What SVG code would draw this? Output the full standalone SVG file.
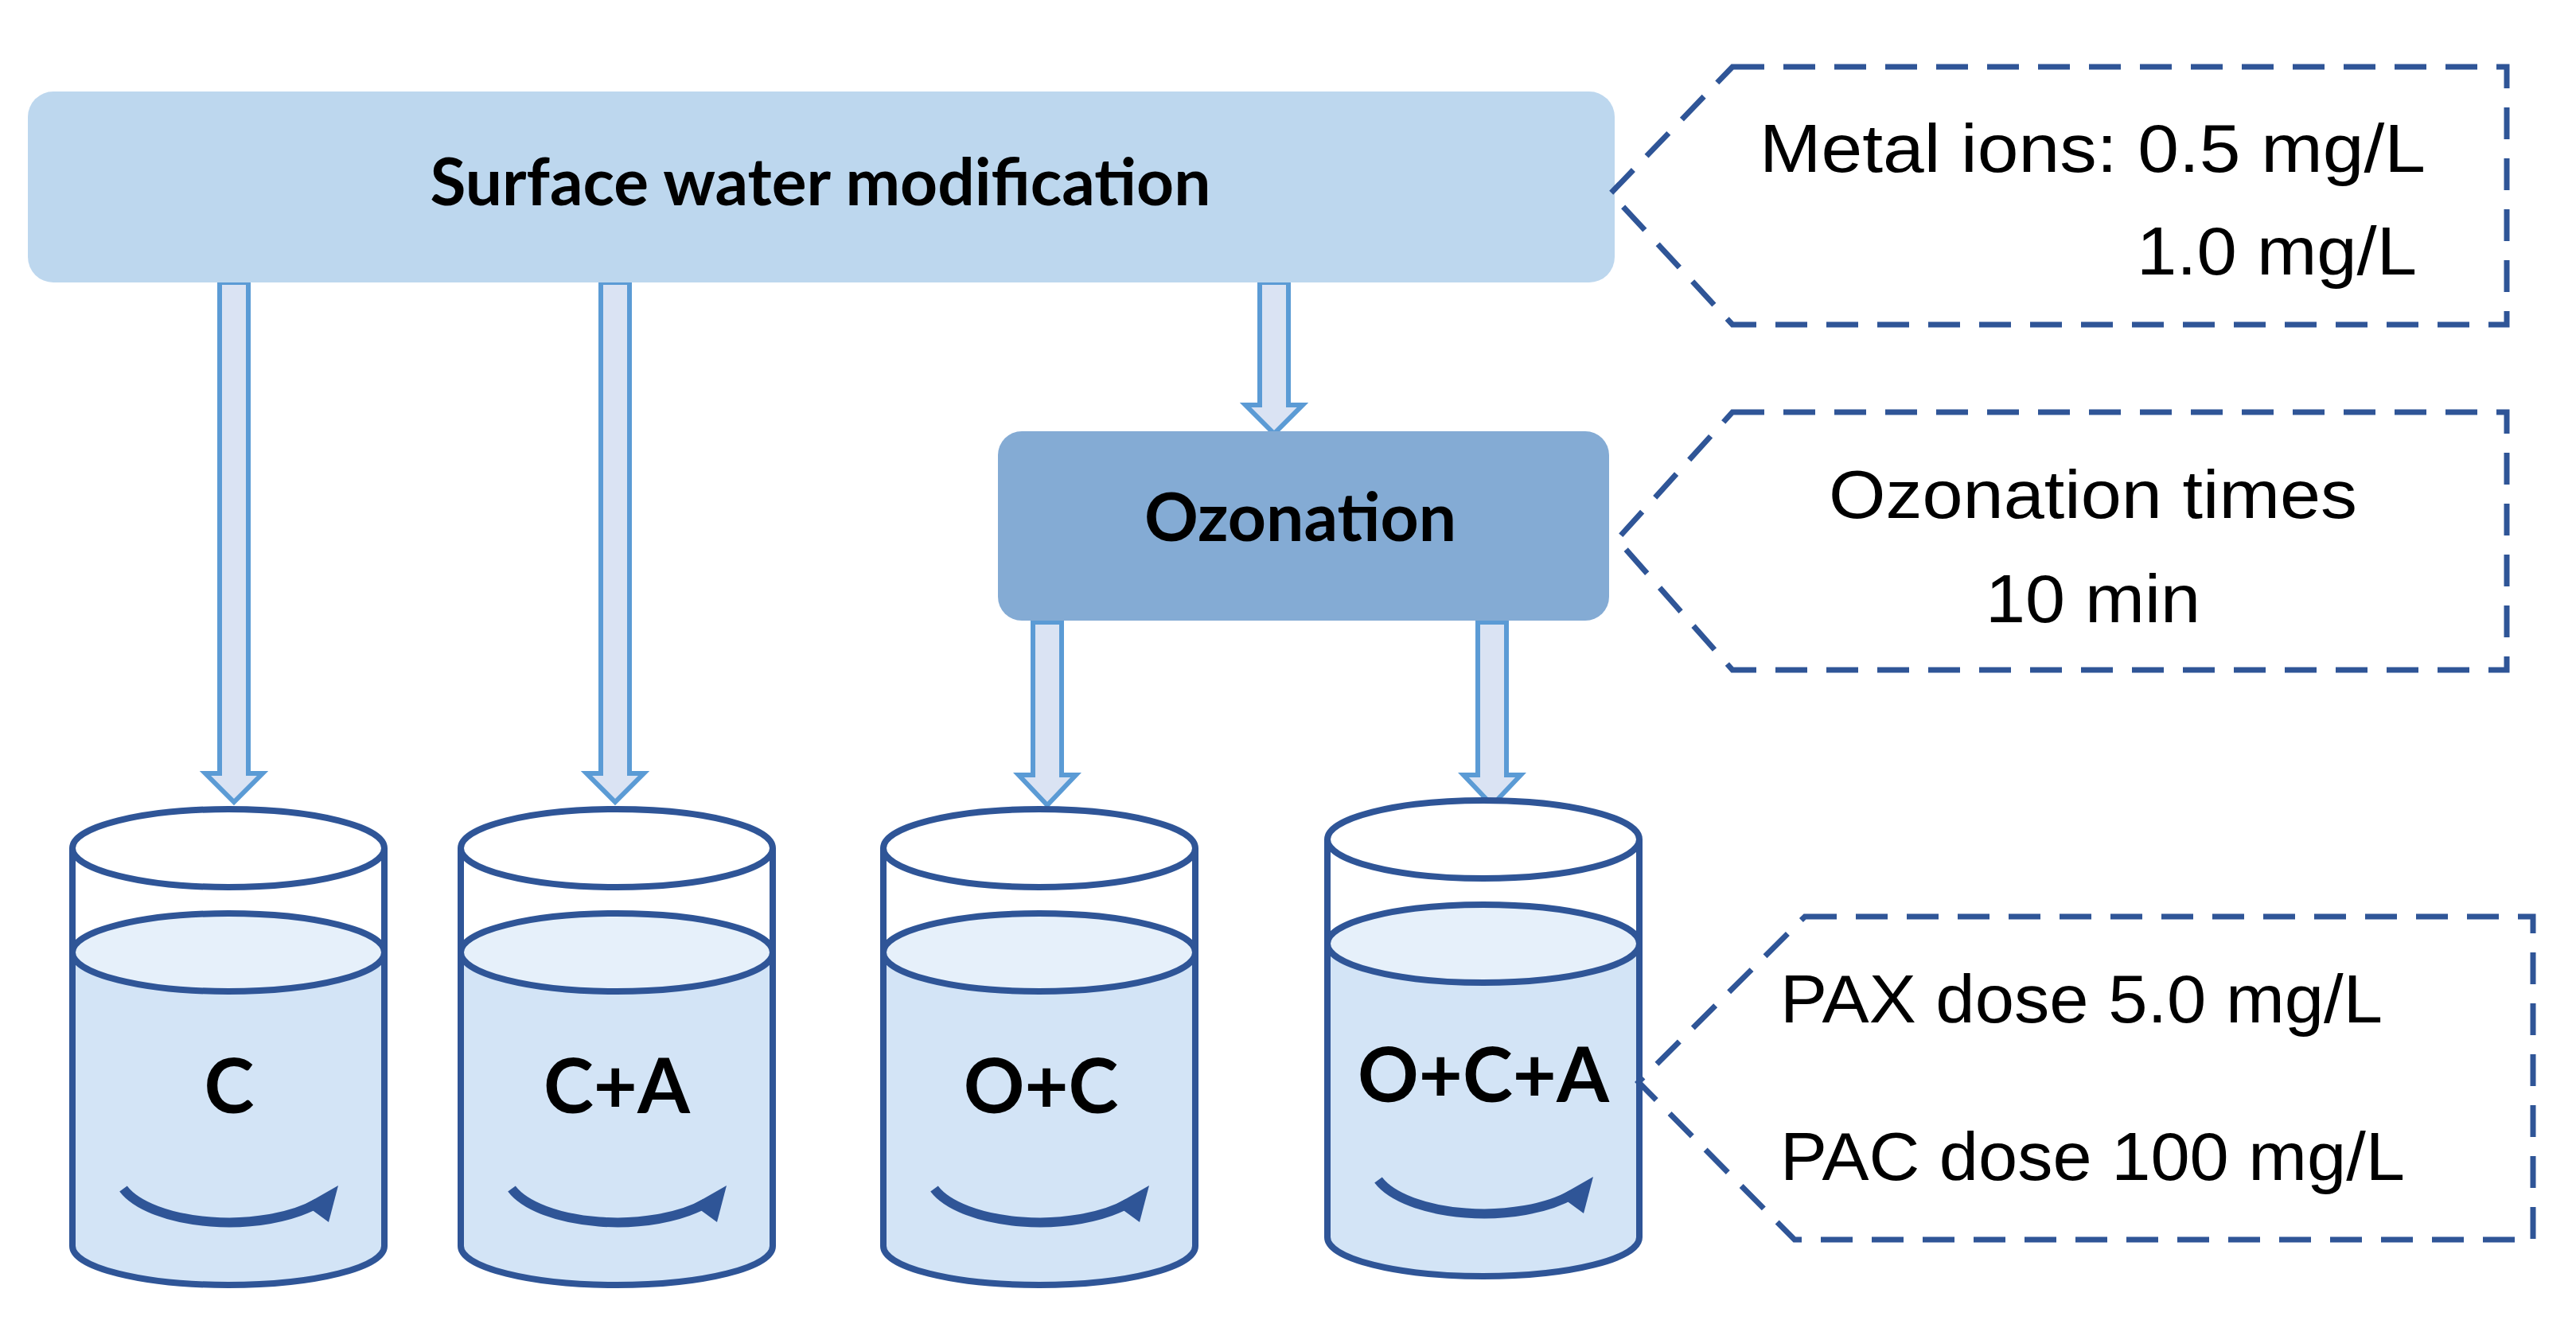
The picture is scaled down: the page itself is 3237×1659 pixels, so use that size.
<svg xmlns="http://www.w3.org/2000/svg" width="3237" height="1659" viewBox="0 0 3237 1659">
<style>
.lbl{font-family:Lato,"Liberation Sans",sans-serif;font-weight:bold;fill:#000;text-anchor:middle}
.note{font-family:"Liberation Sans",Arial,sans-serif;font-size:86px;fill:#000}
.dash{fill:none;stroke:#2f5597;stroke-width:7;stroke-dasharray:40 24}
.arr{fill:#dae3f3;stroke:#5b9bd5;stroke-width:6;stroke-linejoin:miter}
.cs{stroke:#2f5597;stroke-width:8}
</style>
<defs>
<g id="cyl">
<path d="M-196,131 L-196,500 A196 49 0 0 0 196,500 L196,131 Z" fill="#d3e4f6"/>
<ellipse cx="0" cy="131" rx="196" ry="49" fill="#e6f0fa" class="cs"/>
<ellipse cx="0" cy="0" rx="196" ry="49" fill="#fff" class="cs"/>
<path d="M-196,0 L-196,500 A196 49 0 0 0 196,500 L196,0" fill="none" class="cs"/>
<path d="M-132,428 A140 62 0 0 0 112,446" fill="none" stroke="#2f5597" stroke-width="12"/>
<polygon points="138,424 96,448 126,470" fill="#2f5597"/>
</g>
</defs>
<g id="connectors">
<polygon class="arr" points="276,355 312,355 312,972 330,972 294,1008 258,972 276,972"/>
<polygon class="arr" points="755,355 791,355 791,972 809,972 773,1008 737,972 755,972"/>
<polygon class="arr" points="1583,355 1619,355 1619,509 1637,509 1601,545 1565,509 1583,509"/>
<polygon class="arr" points="1298,782 1334,782 1334,974 1352,974 1316,1012 1280,974 1298,974"/>
<polygon class="arr" points="1857,782 1893,782 1893,974 1911,974 1875,1012 1839,974 1857,974"/>
</g>
<g id="surface">
<rect x="35" y="115" width="1994" height="240" rx="32" fill="#bdd7ee"/>
<text class="lbl" x="1031" y="258" font-size="82">Surface water modification</text>
</g>
<g id="ozonation">
<rect x="1254" y="542" width="768" height="238" rx="30" fill="#84abd4"/>
<text class="lbl" x="1634" y="680" font-size="84">Ozonation</text>
</g>
<g id="cylC"><use href="#cyl" x="287" y="1066"/><text class="lbl" x="288" y="1399" font-size="95">C</text></g>
<g id="cylCA"><use href="#cyl" x="775" y="1066"/><text class="lbl" x="775" y="1399" font-size="95">C+A</text></g>
<g id="cylOC"><use href="#cyl" x="1306" y="1066"/><text class="lbl" x="1308" y="1399" font-size="95">O+C</text></g>
<g id="cylOCA"><use href="#cyl" x="1864" y="1055"/><text class="lbl" x="1864" y="1385" font-size="95">O+C+A</text></g>
<g id="note1">
<path class="dash" d="M2177,84 L3150,84 L3150,408 L2177,408 L2024,243 Z"/>
<text class="note" x="2211" y="216" textLength="837" lengthAdjust="spacingAndGlyphs">Metal ions: 0.5 mg/L</text>
<text class="note" x="2685" y="345" textLength="352" lengthAdjust="spacingAndGlyphs">1.0 mg/L</text>
</g>
<g id="note2">
<path class="dash" d="M2177,518 L3150,518 L3150,842 L2177,842 L2032,678 Z"/>
<text class="note" x="2298" y="651" textLength="664" lengthAdjust="spacingAndGlyphs">Ozonation times</text>
<text class="note" x="2495" y="782" textLength="270" lengthAdjust="spacingAndGlyphs">10 min</text>
</g>
<g id="note3">
<path class="dash" d="M2268,1152 L3183,1152 L3183,1558 L2255,1558 L2059,1360 Z"/>
<text class="note" x="2237" y="1285" textLength="757" lengthAdjust="spacingAndGlyphs">PAX dose 5.0 mg/L</text>
<text class="note" x="2237" y="1483" textLength="785" lengthAdjust="spacingAndGlyphs">PAC dose 100 mg/L</text>
</g>
</svg>
